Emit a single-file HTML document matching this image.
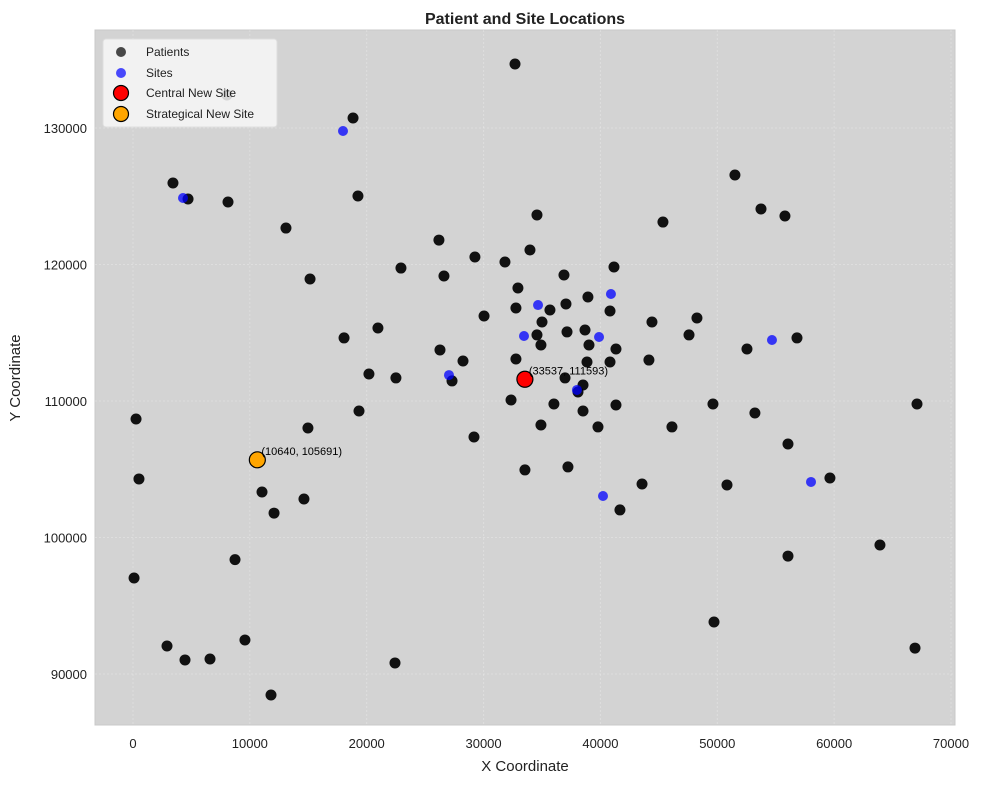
<!DOCTYPE html>
<html><head><meta charset="utf-8"><style>
body{margin:0;background:#fff;font-family:"Liberation Sans",Arial,sans-serif}
svg text{font-family:"Liberation Sans",Arial,sans-serif}
</style></head><body>
<svg id="chart" width="983" height="784">
<rect x="0" y="0" width="983" height="784" fill="#fff"/>
<text x="525" y="24" text-anchor="middle" font-size="16" font-weight="bold" fill="#222">Patient and Site Locations</text>
<rect x="95" y="30" width="860" height="695" fill="#d3d3d3" stroke="#c8c8c8"/>
<g id="grid"></g><g id="ticks"></g><g id="marks"></g>
<text x="525" y="771" text-anchor="middle" font-size="15" fill="#222">X Coordinate</text>
<text x="20" y="378" text-anchor="middle" font-size="15" fill="#222" transform="rotate(-90 20 378)">Y Coordinate</text>
<g>
<rect x="103" y="39" width="174" height="88" rx="3" fill="#f7f7f7" fill-opacity="0.85" stroke="#ddd"/>
<circle cx="121" cy="52" r="5" fill="#000" fill-opacity="0.7"/>
<text x="146" y="56" font-size="12" fill="#222">Patients</text>
<circle cx="121" cy="73" r="5" fill="#00f" fill-opacity="0.7"/>
<text x="146" y="77" font-size="12" fill="#222">Sites</text>
<circle cx="121" cy="93" r="7.5" fill="red" stroke="#000" stroke-width="1.2"/>
<text x="146" y="97" font-size="12" fill="#222">Central New Site</text>
<circle cx="121" cy="114" r="7.5" fill="orange" stroke="#000" stroke-width="1.2"/>
<text x="146" y="118" font-size="12" fill="#222">Strategical New Site</text>
</g>
</svg>
<script>
const patientX=[32.69,8.04,18.83,3.42,4.71,8.13,19.25,13.09,15.15,22.93,26.18,26.61,29.26,31.83,33.97,34.57,45.35,51.51,53.74,55.79,41.16,30.04,32.94,32.77,36.88,38.93,40.82,35.68,35.00,37.05,37.14,38.68,39.02,41.33,40.82,34.57,34.91,44.41,47.58,48.26,52.54,56.82,26.27,28.24,32.77,38.85,44.15,20.96,18.06,20.19,22.50,27.30,36.97,38.51,32.35,34.91,36.02,38.51,39.79,41.33,29.18,33.54,19.34,14.97,0.26,0.51,11.04,12.07,14.63,37.22,43.56,41.67,46.12,49.63,50.83,53.22,56.05,59.64,56.05,63.92,67.09,66.92,49.72,22.42,11.81,9.58,8.73,6.59,4.45,2.91,0.09,38.08];
const patientY=[134.69,132.42,130.73,125.97,124.80,124.58,125.02,122.67,118.94,119.74,121.79,119.16,120.55,120.18,121.06,123.63,123.11,126.56,124.07,123.55,119.82,116.23,118.28,116.81,119.23,117.62,116.59,116.67,115.79,117.11,115.06,115.20,114.10,113.81,112.86,114.84,114.10,115.79,114.84,116.08,113.81,114.62,113.74,112.93,113.08,112.86,113.00,115.35,114.62,111.98,111.69,111.47,111.69,111.17,110.07,108.24,109.78,109.27,108.10,109.71,107.36,104.95,109.27,108.02,108.68,104.29,103.33,101.79,102.82,105.17,103.92,102.02,108.10,109.78,103.85,109.12,106.85,104.36,98.64,99.45,109.78,91.90,93.81,90.81,88.46,92.49,98.38,91.10,91.03,92.05,97.03,110.66];
const siteX=[17.97,4.28,34.66,40.90,33.46,39.88,27.04,37.99,54.68,40.22,58.02];
const siteY=[129.78,124.87,117.03,117.84,114.76,114.69,111.90,110.81,114.47,103.04,104.07];
const newSiteX=[33537,10640];
const newSiteY=[111593,105691];
const xTicks=[0,10000,20000,30000,40000,50000,60000,70000];
const yTicks=[90000,100000,110000,120000,130000];
const NS='http://www.w3.org/2000/svg';
const sx=v=>133+v*818/70000;
const sy=v=>128+(130000-v)*546/40000;
function mk(t,a,p){const e=document.createElementNS(NS,t);for(const k in a)e.setAttribute(k,a[k]);p.appendChild(e);return e;}
const grid=document.getElementById('grid'),ticks=document.getElementById('ticks'),marks=document.getElementById('marks');
xTicks.forEach(v=>{const x=sx(v);
 const l=mk('line',{x1:x,x2:x,y1:30,y2:725,stroke:'#fff','stroke-opacity':0.25,'stroke-dasharray':'2,2'},grid);
 
 
 const t=mk('text',{x:x,y:748,'text-anchor':'middle','font-size':13,fill:'#222'},ticks);t.textContent=v;
 
 });
yTicks.forEach(v=>{const y=sy(v);
 const l=mk('line',{x1:95,x2:955,y1:y,y2:y,stroke:'#fff','stroke-opacity':0.25,'stroke-dasharray':'2,2'},grid);
 
 
 const t=mk('text',{x:87,y:y+5,'text-anchor':'end','font-size':13,fill:'#222'},ticks);t.textContent=v;
 
 });
patientX.forEach((v,i)=>{const c=mk('circle',{cx:sx(v*1000),cy:sy(patientY[i]*1000),r:5.5,fill:'#000','fill-opacity':0.92},marks);
 
 });
siteX.forEach((v,i)=>{const c=mk('circle',{cx:sx(v*1000),cy:sy(siteY[i]*1000),r:5,fill:'#00f','fill-opacity':0.75},marks);
 
 });
const cols=['red','orange'],names=['central-new-site','strategical-new-site'];
newSiteX.forEach((v,i)=>{const x=sx(v),y=sy(newSiteY[i]);
 const c=mk('circle',{cx:x,cy:y,r:8,fill:cols[i],stroke:'#000','stroke-width':1.2},marks);
 
 
 const t=mk('text',{x:x+4,y:y-5,'font-size':11,fill:'#000'},marks);t.textContent='('+v+', '+newSiteY[i]+')';
 
 });
</script>
</body></html>
